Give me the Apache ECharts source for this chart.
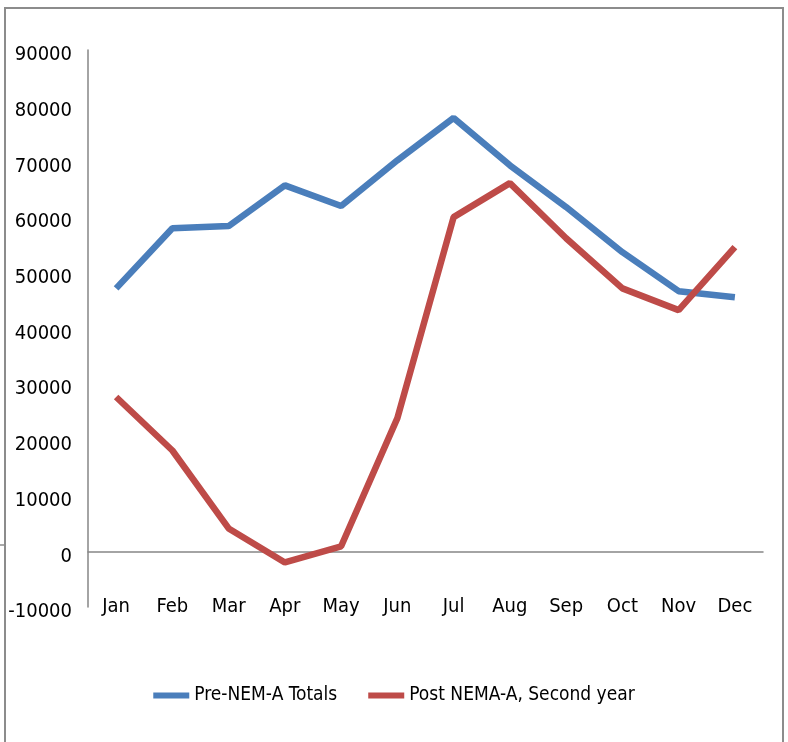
<!DOCTYPE html>
<html>
<head>
<meta charset="utf-8">
<script src="https://cdn.jsdelivr.net/npm/echarts@6/dist/echarts.min.js"></script>
<style>
  html, body { margin: 0; padding: 0; background: #fff; }
  #chart { width: 788px; height: 742px; }
</style>
</head>
<body>
<div id="chart"></div>
<script>
const months = ['Jan', 'Feb', 'Mar', 'Apr', 'May', 'Jun', 'Jul', 'Aug', 'Sep', 'Oct', 'Nov', 'Dec'];
const preNemTotals = [47200, 58000, 58400, 65700, 62000, 70200, 77800, 69300, 61800, 53700, 46700, 45600];
const postNemaSecond = [27700, 18100, 4100, -2000, 900, 23900, 60000, 66100, 56200, 47200, 43300, 54600];
const yTicks = { min: -10000, max: 90000, step: 10000 };

const font = "'DejaVu Sans Condensed', 'Liberation Sans', sans-serif";
const axisGray = '#868686';

const chart = echarts.init(document.getElementById('chart'));
chart.setOption({
  animation: false,
  graphic: [
    {
      type: 'rect',
      shape: { x: 5, y: 8, width: 778, height: 760 },
      style: { fill: 'none', stroke: '#8c8c8c', lineWidth: 2 }
    },
    {
      // stray border fragment at the left edge of the original
      type: 'line',
      shape: { x1: 0, y1: 545, x2: 4, y2: 545 },
      style: { stroke: '#8c8c8c', lineWidth: 1.5 }
    }
  ],
  grid: { left: 88, right: 25, top: 50, bottom: 135, containLabel: false, outerBoundsMode: 'none' },
  legend: {
    left: 'center',
    top: 681,
    itemWidth: 36,
    itemHeight: 6,
    itemGap: 31,
    icon: 'rect',
    textStyle: { fontFamily: font, fontSize: 19, color: '#000' },
    data: ['Pre-NEM-A Totals', 'Post NEMA-A, Second year']
  },
  xAxis: [
    {
      type: 'category',
      data: months,
      axisLine: { show: false, onZero: false },
      axisTick: { show: false },
      axisLabel: { fontFamily: font, fontSize: 20, color: '#000', margin: 0, verticalAlign: 'middle', padding: [4, 0, 0, 0] }
    },
    {
      // horizontal line through zero, as in the original
      type: 'category',
      data: months,
      position: 'bottom',
      axisLine: { onZero: true, lineStyle: { color: axisGray, width: 1.5 } },
      axisTick: { show: false },
      axisLabel: { show: false }
    }
  ],
  yAxis: {
    type: 'value',
    min: yTicks.min,
    max: yTicks.max,
    interval: yTicks.step,
    axisLine: { show: true, lineStyle: { color: axisGray, width: 1.5 } },
    axisTick: { show: false },
    splitLine: { show: false },
    axisLabel: {
      fontFamily: font, fontSize: 20, color: '#000', margin: 16,
      formatter: v => '{v|' + v + '}',
      rich: { v: { fontFamily: font, fontSize: 20, color: '#000', padding: [10, 0, 0, 0] } }
    }
  },
  series: [
    {
      name: 'Pre-NEM-A Totals',
      type: 'line',
      data: preNemTotals,
      symbol: 'none',
      lineStyle: { color: '#4a7ebb', width: 6.5 },
      itemStyle: { color: '#4a7ebb' }
    },
    {
      name: 'Post NEMA-A, Second year',
      type: 'line',
      data: postNemaSecond,
      symbol: 'none',
      lineStyle: { color: '#be4b48', width: 6.5 },
      itemStyle: { color: '#be4b48' }
    }
  ]
});
</script>
</body>
</html>
